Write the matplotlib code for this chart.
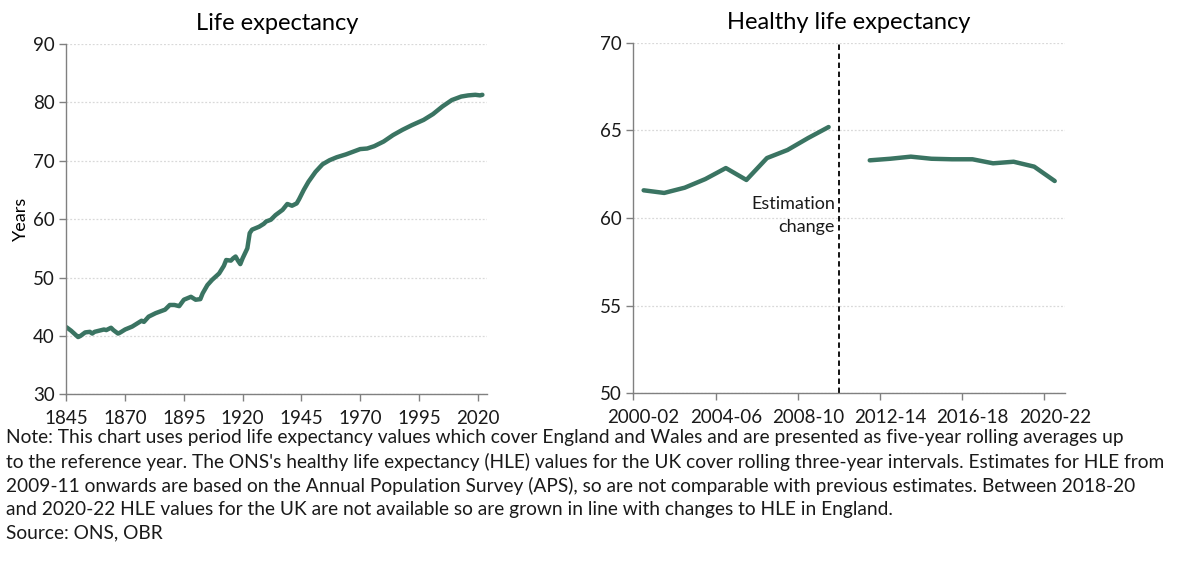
import matplotlib
matplotlib.use("Agg")
import matplotlib.pyplot as plt
import numpy as np
from matplotlib import font_manager

# ---- Data ----
le_years = [1845, 1847, 1850, 1851, 1853, 1855, 1856, 1857, 1859, 1861, 1862, 1864, 1865,
            1867, 1868, 1870, 1873, 1875, 1877, 1878, 1880, 1883, 1885, 1887, 1889, 1891,
            1893, 1895, 1898, 1900, 1902, 1903, 1905, 1907, 1910, 1912, 1913, 1915, 1916,
            1917, 1918, 1919, 1920, 1922, 1923, 1924, 1927, 1929, 1930, 1932, 1934, 1937,
            1939, 1941, 1943, 1944, 1946, 1948, 1951, 1954, 1957, 1960, 1964, 1968, 1970,
            1973, 1976, 1980, 1984, 1988, 1992, 1997, 2001, 2005, 2009, 2013, 2016, 2019,
            2021, 2022]
le_values = [41.5, 40.9, 39.8, 40.0, 40.6, 40.7, 40.4, 40.7, 40.9, 41.1, 41.0, 41.4, 41.0,
             40.4, 40.6, 41.1, 41.6, 42.1, 42.6, 42.4, 43.3, 43.9, 44.2, 44.5, 45.3, 45.3,
             45.1, 46.2, 46.7, 46.2, 46.3, 47.3, 48.7, 49.6, 50.7, 52.0, 53.0, 52.9, 53.3,
             53.6, 52.9, 52.3, 53.3, 55.0, 57.6, 58.2, 58.7, 59.2, 59.6, 59.9, 60.7, 61.6,
             62.6, 62.3, 62.7, 63.4, 65.0, 66.4, 68.1, 69.4, 70.1, 70.6, 71.1, 71.7, 72.0,
             72.1, 72.5, 73.3, 74.4, 75.3, 76.1, 77.0, 78.0, 79.3, 80.4, 81.0, 81.2, 81.3,
             81.2, 81.3]

hle_periods = ["2000-02", "2001-03", "2002-04", "2003-05", "2004-06", "2005-07", "2006-08",
               "2007-09", "2008-10", "2009-11", "2010-12", "2011-13", "2012-14", "2013-15",
               "2014-16", "2015-17", "2016-18", "2017-19", "2018-20", "2019-21", "2020-22"]
hle_old = [61.58, 61.43, 61.73, 62.22, 62.85, 62.17, 63.42, 63.88, 64.56, 65.19,
           np.nan, np.nan, np.nan, np.nan, np.nan, np.nan, np.nan, np.nan, np.nan, np.nan, np.nan]
hle_new = [np.nan, np.nan, np.nan, np.nan, np.nan, np.nan, np.nan, np.nan, np.nan, np.nan,
           np.nan, 63.29, 63.38, 63.50, 63.38, 63.35, 63.35, 63.12, 63.21, 62.93, 62.11]
hle_label_every = 4

# ---- Style ----
avail = {f.name for f in font_manager.fontManager.ttflist}
main_font = "Lato" if "Lato" in avail else "DejaVu Sans"
plt.rcParams["font.family"] = [main_font, "DejaVu Sans"]

line_color = "#3a7462"
axis_color = "#808080"
grid_color = "#d9d9d9"

fig = plt.figure(figsize=(12, 5.62), dpi=100)
ax1 = fig.add_axes([0.0553, 0.2984, 0.3506, 0.6233])
ax2 = fig.add_axes([0.5278, 0.3002, 0.3597, 0.6238])

for ax in (ax1, ax2):
    for s in ("top", "right"):
        ax.spines[s].set_visible(False)
    for s in ("left", "bottom"):
        ax.spines[s].set_color(axis_color)
        ax.spines[s].set_linewidth(1.0)
    ax.grid(axis="y", color=grid_color, linestyle=(0, (1.5, 1.5)), linewidth=0.9)
    ax.set_axisbelow(True)
    ax.tick_params(axis="both", which="both", color=axis_color, labelsize=13.5,
                   length=5, width=1.0, direction="out", labelcolor="#1a1a1a")
    ax.tick_params(axis="x", which="both", pad=6)

# Left chart
ax1.plot(le_years, le_values, color=line_color, linewidth=3.2, solid_capstyle="round",
         solid_joinstyle="round")
ax1.set_xlim(1845, 2024)
ax1.set_ylim(30, 90)
ax1.set_xticks(np.arange(1845, 2021, 25))
ax1.set_yticks(np.arange(30, 91, 10))
ax1.set_ylabel("Years", fontsize=13)
ax1.yaxis.set_label_coords(-0.09, 0.5)
ax1.set_title("Life expectancy", fontsize=17, pad=10)

# Right chart
xi = np.arange(len(hle_periods))
ax2.plot(xi, hle_old, color=line_color, linewidth=3.2, solid_capstyle="round",
         solid_joinstyle="round")
ax2.plot(xi, hle_new, color=line_color, linewidth=3.2, solid_capstyle="round",
         solid_joinstyle="round")
ax2.set_xlim(-0.5, len(hle_periods) - 0.5)
ax2.set_ylim(50, 70)
ax2.set_yticks(np.arange(50, 71, 5))
ax2.set_xticks(np.arange(-0.5, len(hle_periods), hle_label_every))
ax2.set_xticklabels([])
ax2.set_xticks(xi[::hle_label_every], minor=True)
ax2.set_xticklabels(hle_periods[::hle_label_every], minor=True)
ax2.tick_params(axis="x", which="minor", length=0, labelsize=13.5, pad=11)
ax2.axvline(9.5, color="black", linestyle=(0, (3, 2)), linewidth=1.3)
ax2.text(9.3, 60.15, "Estimation\nchange", ha="right", va="center", fontsize=13,
         linespacing=1.5, color="#1a1a1a")
ax2.set_title("Healthy life expectancy", fontsize=17, pad=10)

note = ("Note: This chart uses period life expectancy values which cover England and Wales and are presented as five-year rolling averages up\n"
        "to the reference year. The ONS's healthy life expectancy (HLE) values for the UK cover rolling three-year intervals. Estimates for HLE from\n"
        "2009-11 onwards are based on the Annual Population Survey (APS), so are not comparable with previous estimates. Between 2018-20\n"
        "and 2020-22 HLE values for the UK are not available so are grown in line with changes to HLE in England.\n"
        "Source: ONS, OBR")
fig.text(0.005, 0.236, note, ha="left", va="top", fontsize=13.8, linespacing=1.42,
         color="#1a1a1a")

fig.savefig("out.png", dpi=100)
